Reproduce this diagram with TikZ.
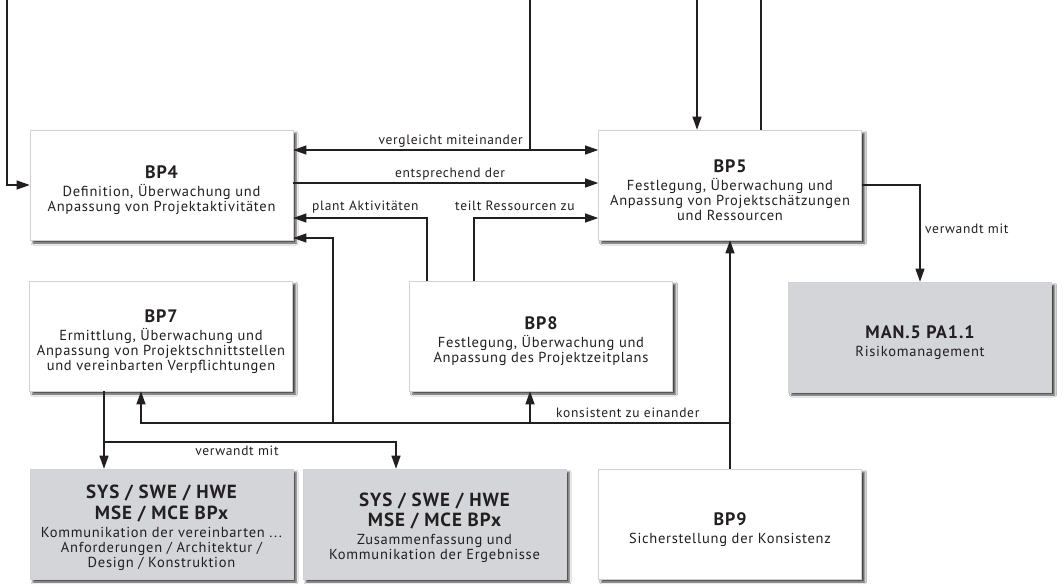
\documentclass[tikz,border=0pt]{standalone}
\usepackage{fontspec}
\setmainfont{PT Sans}[LetterSpace=5]
\usetikzlibrary{arrows.meta,shadows.blur}
\definecolor{boxgray}{RGB}{212,213,216}
\definecolor{ink}{RGB}{35,31,32}
% box titles; the strut keeps the text block a little below the box centre
\newcommand{\hd}[1]{{\fontsize{18}{20}\selectfont\bfseries\rule{0pt}{24pt}#1}\\[3pt]}
\newcommand{\sh}[1]{{\fontsize{19}{19}\selectfont\bfseries #1}}
\begin{document}
\begin{tikzpicture}[x=1pt,y=-1pt,
  box/.style={draw=gray!35, line width=0.6pt, fill=white,
    minimum width=263pt, minimum height=110pt, align=center, inner sep=0pt,
    font=\fontsize{14.5}{15}\selectfont, text=ink,
    blur shadow={shadow xshift=3pt, shadow yshift=-3pt, shadow blur radius=2pt, shadow opacity=75}},
  refbox/.style={box, fill=boxgray},
  conn/.style={draw=ink, line width=1.1pt},
  arr/.style={conn, -{Triangle[length=13pt,width=9pt]}},
  darr/.style={conn, {Triangle[length=13pt,width=9pt]}-{Triangle[length=13pt,width=9pt]}},
  lbl/.style={font=\fontsize{13.5}{15}\selectfont, text=ink, inner sep=0pt},
]
\fill[white] (0,0) rectangle (1064,584);
\useasboundingbox (0,0) rectangle (1064,584);

% process boxes
\node[box] (bp4) at (161.5,185) {\hd{BP4}Definition, Überwachung und\\Anpassung von Projektaktivitäten};
\node[box] (bp5) at (730,185) {\hd{BP5}Festlegung, Überwachung und\\Anpassung von Projektschätzungen\\und Ressourcen};
\node[box] (bp7) at (161,336) {\hd{BP7}Ermittlung, Überwachung und\\Anpassung von Projektschnittstellen\\und vereinbarten Verpflichtungen};
\node[box] (bp8) at (541,336) {\hd{BP8}Festlegung, Überwachung und\\Anpassung des Projektzeitplans};
\node[box] (bp9) at (730,524) {\hd{BP9}Sicherstellung der Konsistenz};
\node[refbox] (man) at (920,337) {\hd{MAN.5 PA1.1}Risikomanagement};
\node[refbox] (sys1) at (161.5,524) {\rule{0pt}{21pt}\sh{SYS / SWE / HWE}\\[3pt]\sh{MSE / MCE BPx}\\[3pt]Kommunikation der vereinbarten ...\\Anforderungen / Architektur /\\Design / Konstruktion};
\node[refbox] (sys2) at (434.5,524) {\rule{0pt}{21pt}\sh{SYS / SWE / HWE}\\[3pt]\sh{MSE / MCE BPx}\\[3pt]Zusammenfassung und\\Kommunikation der Ergebnisse};

% free ends at the top border
\coordinate (tl) at (7,0);
\coordinate (tv) at (530,0);
\coordinate (t1) at (697,0);
\coordinate (t2) at (761,0);

% top connectors
\draw[arr] (tl) |- (bp4.west);
\coordinate (jv) at (530,150);
\draw[darr] (bp4.east |- jv) -- (bp5.west |- jv);
\draw[conn] (tv) -- (jv);
\draw[arr] (t1) -- (t1 |- bp5.north);
\draw[conn] (t2 |- bp5.north) -- (t2);
\node[lbl, anchor=base east] at (523,144) {vergleicht miteinander};

\coordinate (je) at (450,183);
\draw[arr] (bp4.east |- je) -- (bp5.west |- je);
\node[lbl, anchor=base] at (450,177) {entsprechend der};

% BP8 to BP4 / BP5
\coordinate (p1) at (427,218);
\coordinate (p2) at (474,218);
\draw[arr] (p1 |- bp8.north) -- (p1) -- (bp4.east |- p1);
\draw[arr] (p2 |- bp8.north) -- (p2) -- (bp5.west |- p2);
\node[lbl, anchor=base west] at (312,210) {plant Aktivitäten};
\node[lbl, anchor=base west] at (455,210) {teilt Ressourcen zu};

% consistency lines from BP9
\coordinate (k7) at (141,423);
\coordinate (k8) at (530,423);
\coordinate (k4) at (333,423);
\coordinate (k4t) at (333,238);
\draw[arr] (bp9.north) -- (bp5.south);
\draw[arr] (bp9.north |- k7) -- (k7) -- (k7 |- bp7.south);
\draw[arr] (k8) -- (k8 |- bp8.south);
\draw[arr] (k4) -- (k4t) -- (bp4.east |- k4t);
\node[lbl, anchor=base west] at (556,417) {konsistent zu einander};

% BP5 to MAN.5
\draw[arr] (bp5.east) -| (man.north);
\node[lbl, anchor=base west] at (925,233) {verwandt mit};

% BP7 to the engineering processes
\coordinate (s1) at (104,442);
\coordinate (s2) at (396,442);
\draw[arr] (s1 |- bp7.south) -- (s1 |- sys1.north);
\draw[arr] (s1) -- (s2) -- (s2 |- sys2.north);
\node[lbl, anchor=base] at (237,455) {verwandt mit};
\end{tikzpicture}
\end{document}
